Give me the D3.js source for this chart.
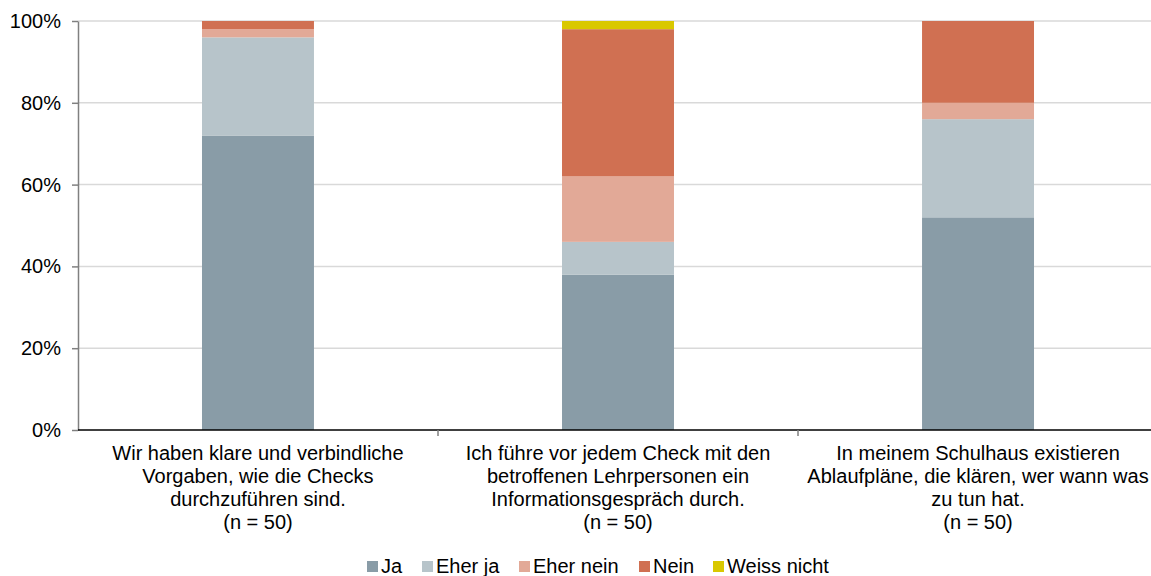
<!DOCTYPE html>
<html lang="de">
<head>
<meta charset="UTF-8">
<title>Checks</title>
<script src="https://d3js.org/d3.v7.min.js"></script>
<style>
  body { margin: 0; background: #fff; }
  svg { display: block; font-family: "Liberation Sans", Arial, sans-serif; }
  .grid line { stroke: #d9d9d9; stroke-width: 1.5px; }
</style>
</head>
<body>
<svg width="1151" height="576"></svg>
<script>
// categories (x-axis labels, line-broken as in the original)
const categories = [
  ["Wir haben klare und verbindliche", "Vorgaben, wie die Checks", "durchzuführen sind.", "(n = 50)"],
  ["Ich führe vor jedem Check mit den", "betroffenen Lehrpersonen ein", "Informationsgespräch durch.", "(n = 50)"],
  ["In meinem Schulhaus existieren", "Ablaufpläne, die klären, wer wann was", "zu tun hat.", "(n = 50)"]
];
const seriesNames = ["Ja", "Eher ja", "Eher nein", "Nein", "Weiss nicht"];
const seriesColors = ["#899ca7", "#b7c4ca", "#e2a997", "#d07052", "#d9c800"];
// percent per series, one value per category
const ja         = [72, 38, 52];
const eherJa     = [24,  8, 24];
const eherNein   = [ 2, 16,  4];
const nein       = [ 2, 36, 20];
const weissNicht = [ 0,  2,  0];
const yTicks = [0, 20, 40, 60, 80, 100];

const seriesValues = [ja, eherJa, eherNein, nein, weissNicht];
const rows = categories.map((c, i) => {
  const r = { idx: i };
  seriesNames.forEach((s, k) => r[s] = seriesValues[k][i]);
  return r;
});

const svg = d3.select("svg");
const margin = { left: 78, top: 21, bottom: 146 };
const H = +svg.attr("height");
const plotW = 1080; // runs slightly past the right edge, as in the original
const plotH = H - margin.top - margin.bottom;
const fs = 20;

const g = svg.append("g").attr("transform", `translate(${margin.left},${margin.top})`);

const x = d3.scaleBand().domain(d3.range(categories.length)).range([0, plotW]).paddingInner(0.689).paddingOuter(0.3444);
const y = d3.scaleLinear().domain([0, 100]).range([plotH, 0]);

// gridlines
g.append("g").attr("class", "grid")
  .selectAll("line").data(yTicks.filter(t => t > 0)).join("line")
  .attr("x1", 0).attr("x2", plotW)
  .attr("y1", d => y(d)).attr("y2", d => y(d));

// stacked bars
const stack = d3.stack().keys(seriesNames)(rows);
g.selectAll("g.series").data(stack).join("g")
  .attr("class", "series")
  .attr("fill", (d, i) => seriesColors[i])
  .selectAll("rect").data(d => d).join("rect")
  .attr("x", d => x(d.data.idx))
  .attr("width", x.bandwidth())
  .attr("y", d => y(d[1]))
  .attr("height", d => y(d[0]) - y(d[1]));

// y axis
const yAxis = g.append("g")
  .call(d3.axisLeft(y).tickValues(yTicks).tickFormat(d => d + "%").tickSize(6).tickSizeOuter(0));
yAxis.select(".domain").attr("stroke", "#808080").attr("stroke-width", 1.5);
yAxis.selectAll(".tick line").attr("stroke", "#808080").attr("stroke-width", 1.5);
yAxis.selectAll("text").attr("font-size", fs).attr("fill", "#000").attr("x", -17)
  .attr("font-family", "Liberation Sans, Arial, sans-serif");

// x baseline and category separators
const step = plotW / categories.length;
g.append("line").attr("x1", 0).attr("x2", plotW).attr("y1", plotH).attr("y2", plotH)
  .attr("stroke", "#000").attr("stroke-width", 1.5);
g.selectAll("line.sep").data(d3.range(1, categories.length)).join("line")
  .attr("class", "sep")
  .attr("x1", d => d * step).attr("x2", d => d * step)
  .attr("y1", plotH).attr("y2", plotH + 6)
  .attr("stroke", "#808080").attr("stroke-width", 1.5);

// category labels
const labels = g.selectAll("text.cat").data(categories).join("text")
  .attr("class", "cat")
  .attr("text-anchor", "middle")
  .attr("font-size", fs)
  .attr("fill", "#000")
  .attr("transform", (d, i) => `translate(${x(i) + x.bandwidth() / 2},${plotH + 30})`);
labels.selectAll("tspan").data(d => d).join("tspan")
  .attr("x", 0).attr("dy", (d, i) => i === 0 ? 0 : 23)
  .text(d => d);

// legend
const legendX = [367, 422, 519, 639, 713];
const legend = svg.append("g").attr("transform", `translate(0,566)`);
const li = legend.selectAll("g").data(seriesNames).join("g")
  .attr("transform", (d, i) => `translate(${legendX[i]},0)`);
li.append("rect").attr("x", 0).attr("y", -5).attr("width", 11).attr("height", 11)
  .attr("fill", (d, i) => seriesColors[i]);
li.append("text").attr("x", 14).attr("y", 7).attr("font-size", fs).attr("fill", "#000")
  .text(d => d);
</script>
</body>
</html>
